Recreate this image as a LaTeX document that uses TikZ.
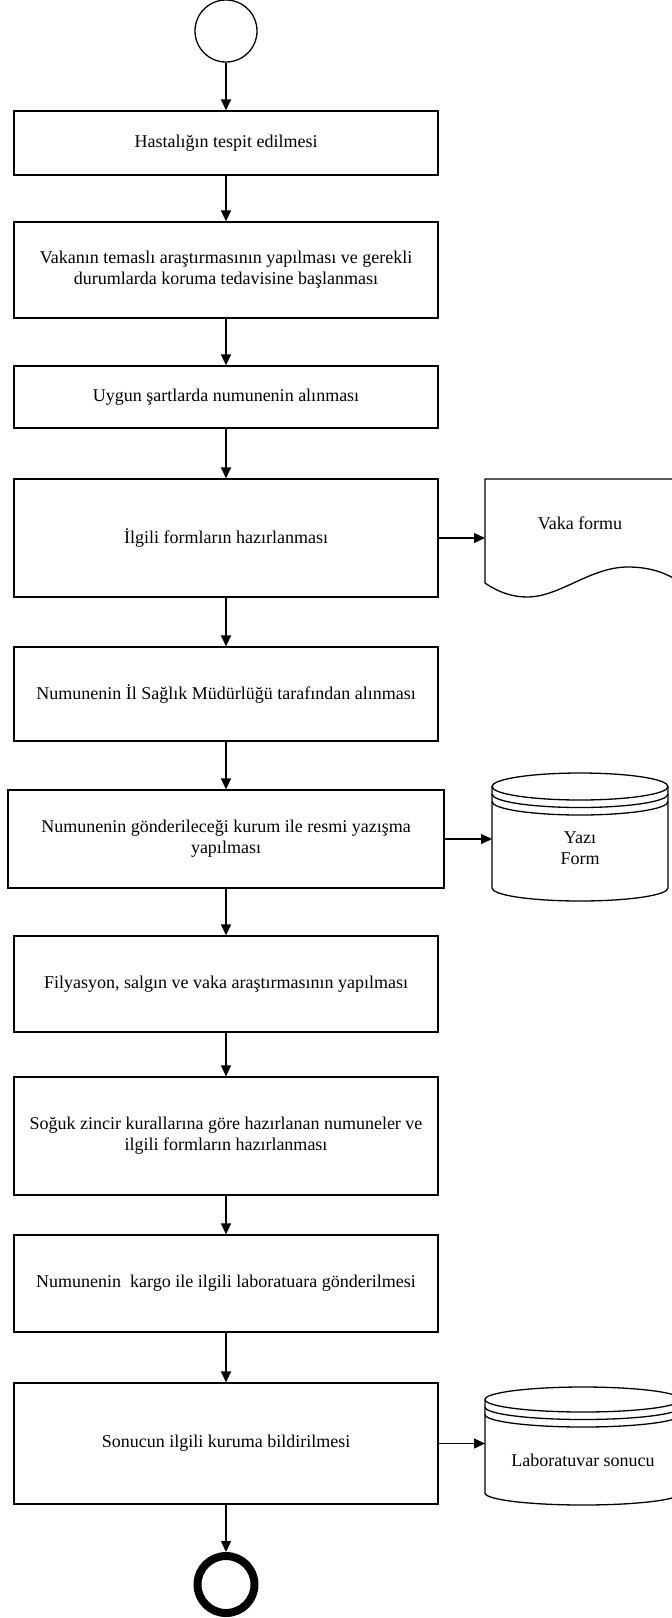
\documentclass[tikz,border=0pt]{standalone}
\usepackage{fontspec}
\setmainfont{Liberation Serif}
\usetikzlibrary{arrows.meta}
\begin{document}
\begin{tikzpicture}[x=1pt,y=-1pt,line width=1.3pt,
  txt/.style={font=\fontsize{18}{21}\selectfont, align=center, inner sep=0pt},
  stepbox/.style={txt, draw, line width=1.3pt, minimum width=424pt},
  arr/.style={-{Triangle[length=11pt,width=10pt]}, line width=1.3pt}]
\fill[white] (0,0) rectangle (672,1618);
\useasboundingbox (0,0) rectangle (672,1618);
\clip (0,0) rectangle (672,1618);

% start and end events
\node[draw, circle, minimum size=62pt, line width=1.3pt] (start) at (226,31) {};
\node[draw, circle, minimum size=57pt, line width=8pt] (stop) at (226,1584.5) {};

% process steps
\node[stepbox, minimum height=64pt]  (b1)  at (226,143)    {Hastalığın tespit edilmesi};
\node[stepbox, minimum height=96pt]  (b2)  at (226,270)    {Vakanın temaslı araştırmasının yapılması ve gerekli\\durumlarda koruma tedavisine başlanması};
\node[stepbox, minimum height=62pt]  (b3)  at (226,397)    {Uygun şartlarda numunenin alınması};
\node[stepbox, minimum height=118pt] (b4)  at (226,538)    {İlgili formların hazırlanması};
\node[stepbox, minimum height=94pt]  (b5)  at (226,694)    {Numunenin İl Sağlık Müdürlüğü tarafından alınması};
\node[stepbox, minimum height=98pt, minimum width=436pt] (b6) at (226,839) {Numunenin gönderileceği kurum ile resmi yazışma\\yapılması};
\node[stepbox, minimum height=96pt]  (b7)  at (226,984)    {Filyasyon, salgın ve vaka araştırmasının yapılması};
\node[stepbox, minimum height=118pt] (b8)  at (226,1136)   {Soğuk zincir kurallarına göre hazırlanan numuneler ve\\ilgili formların hazırlanması};
\node[stepbox, minimum height=97pt]  (b9)  at (226,1283.5) {Numunenin\ \ kargo ile ilgili laboratuara gönderilmesi};
\node[stepbox, minimum height=121pt] (b10) at (226,1443.5) {Sonucun ilgili kuruma bildirilmesi};

% document: Vaka formu
\draw (485,583) -- (485,479) -- (682,479) -- (682,584)
  .. controls (668,573) and (650,567) .. (628,567)
  .. controls (590,567) and (560,597) .. (527,597)
  .. controls (512,597) and (498,592) .. (485,583) -- cycle;
\node[txt] (vf) at (580,523) {Vaka formu};
\coordinate (vfin) at (485,538);

% stored data: Yazı / Form
\draw (492,786.5) -- (492,888) arc[start angle=180, end angle=360, x radius=88pt, y radius=13pt] -- (668,786.5);
\draw (580,786.5) ellipse [x radius=88pt, y radius=13.5pt];
\draw (492,794) arc[start angle=180, end angle=360, x radius=88pt, y radius=13.5pt];
\draw (492,801.5) arc[start angle=180, end angle=360, x radius=88pt, y radius=13.5pt];
\node[txt] (yf) at (580,848) {Yazı\\Form};
\coordinate (yfin) at (492,839);

% stored data: Laboratuvar sonucu
\draw (485,1399.5) -- (485,1493) arc[start angle=180, end angle=360, x radius=98pt, y radius=12pt] -- (681,1399.5);
\draw (583,1399.5) ellipse [x radius=98pt, y radius=12.5pt];
\draw (485,1407) arc[start angle=180, end angle=360, x radius=98pt, y radius=12.5pt];
\draw (485,1414.5) arc[start angle=180, end angle=360, x radius=98pt, y radius=12.5pt];
\node[txt] (ls) at (583,1460) {Laboratuvar sonucu};
\coordinate (lsin) at (485,1443.5);

% flow
\draw[arr] (start.south) -- (b1.north);
\draw[arr] (b1.south) -- (b2.north);
\draw[arr] (b2.south) -- (b3.north);
\draw[arr] (b3.south) -- (b4.north);
\draw[arr] (b4.south) -- (b5.north);
\draw[arr] (b5.south) -- (b6.north);
\draw[arr] (b6.south) -- (b7.north);
\draw[arr] (b7.south) -- (b8.north);
\draw[arr] (b8.south) -- (b9.north);
\draw[arr] (b9.south) -- (b10.north);
\draw[arr] (b10.south) -- (stop.north);

% outputs
\draw[arr] (b4.east) -- (vfin);
\draw[arr] (b6.east) -- (b6.east -| yfin);
\draw[arr] (b10.east) -- (lsin);
\end{tikzpicture}
\end{document}
